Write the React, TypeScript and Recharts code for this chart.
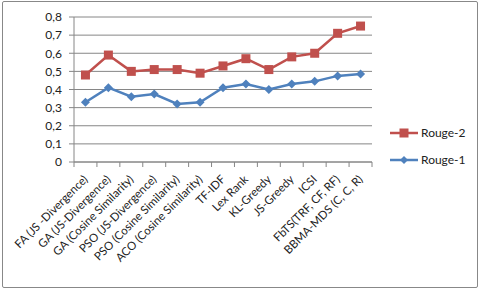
import React from "react"
import { LineChart, Line, XAxis, YAxis, CartesianGrid, Legend } from "recharts"

// categories along the x axis
const methods = [
  "FA (JS -Divergence)",
  "GA (JS-Divergence)",
  "GA (Cosine Similarity)",
  "PSO (JS-Divergence)",
  "PSO (Cosine Similarity)",
  "ACO (Cosine Similarity)",
  "TF-IDF",
  "Lex Rank",
  "KL-Greedy",
  "JS-Greedy",
  "ICSI",
  "FbTS(TRF, CF, RF)",
  "BBMA-MDS (C, C, R)",
]

const rouge2 = [0.48, 0.59, 0.5, 0.51, 0.51, 0.49, 0.53, 0.57, 0.51, 0.58, 0.6, 0.71, 0.75]
const rouge1 = [0.33, 0.41, 0.36, 0.375, 0.32, 0.33, 0.41, 0.43, 0.4, 0.43, 0.445, 0.475, 0.485]

const yTicks = [0, 0.1, 0.2, 0.3, 0.4, 0.5, 0.6, 0.7, 0.8]

const RED = "#C0504D"
const BLUE = "#4F81BD"
const AXIS = "#868686"
const FONT = "Lato, 'Liberation Sans', sans-serif"

const data = methods.map((name, i) => ({ name, r2: rouge2[i], r1: rouge1[i] }))

const WIDTH = 480
const HEIGHT = 290
const MARGIN = { top: 17, right: 108, left: 0, bottom: 0 }
const Y_WIDTH = 74
const BAND = (WIDTH - MARGIN.left - MARGIN.right - Y_WIDTH) / methods.length

// x tick: rotated label plus a tick line at the category boundary (Excel style)
const CategoryTick = (props: any) => {
  const { x, y, payload, index } = props
  const last = index === methods.length - 1
  const ax = x + 3
  const ay = y + 10
  return (
    <g>
      <line x1={x - BAND / 2} y1={y - 8} x2={x - BAND / 2} y2={y - 3} stroke={AXIS} />
      {last && <line x1={x + BAND / 2} y1={y - 8} x2={x + BAND / 2} y2={y - 3} stroke={AXIS} />}
      <text
        x={ax}
        y={ay}
        textAnchor="end"
        fontSize={11.5}
        fontFamily={FONT}
        fill="#222"
        transform={`rotate(-45 ${ax} ${ay})`}
      >
        {payload.value}
      </text>
    </g>
  )
}

const Square = (props: any) => {
  const { cx, cy } = props
  if (cx == null || cy == null) return null
  return <rect x={cx - 4.5} y={cy - 4.5} width={9} height={9} fill={RED} />
}

const Diamond = (props: any) => {
  const { cx, cy } = props
  if (cx == null || cy == null) return null
  return <path d={`M${cx},${cy - 4.5} L${cx + 4.5},${cy} L${cx},${cy + 4.5} L${cx - 4.5},${cy} Z`} fill={BLUE} />
}

const LegendContent = () => {
  const items = [
    { label: "Rouge-2", color: RED, shape: "square" },
    { label: "Rouge-1", color: BLUE, shape: "diamond" },
  ]
  return (
    <svg width={90} height={50}>
      {items.map((it, i) => {
        const cy = 8 + i * 27
        return (
          <g key={it.label}>
            <line x1={0} y1={cy} x2={28} y2={cy} stroke={it.color} strokeWidth={2.5} />
            {it.shape === "square" ? (
              <rect x={9.5} y={cy - 4.5} width={9} height={9} fill={it.color} />
            ) : (
              <path d={`M14,${cy - 4} L18,${cy} L14,${cy + 4} L10,${cy} Z`} fill={it.color} />
            )}
            <text x={31} y={cy + 4} fontSize={12} fontFamily={FONT} fill="#222">
              {it.label}
            </text>
          </g>
        )
      })}
    </svg>
  )
}

export default function App() {
  return (
    <div style={{ position: "absolute", left: 0, top: 0, width: WIDTH, height: HEIGHT, background: "#fff" }}>
      <div
        style={{
          position: "absolute",
          left: 2,
          top: 1,
          width: 474,
          height: 285,
          border: "1px solid #888",
          borderRadius: 2,
        }}
      />
      <LineChart width={WIDTH} height={HEIGHT} data={data} margin={MARGIN}>
        <CartesianGrid vertical={false} stroke={AXIS} />
        <XAxis
          dataKey="name"
          interval={0}
          height={128}
          tickLine={false}
          stroke={AXIS}
          tick={<CategoryTick />}
          padding={{ left: BAND / 2, right: BAND / 2 }}
        />
        <YAxis
          width={Y_WIDTH}
          domain={[0, 0.8]}
          ticks={yTicks}
          interval={0}
          stroke={AXIS}
          tickSize={5}
          tickMargin={7}
          tickFormatter={(v: number) => v.toFixed(1).replace(".", ",").replace(/^0,0$/, "0")}
          tick={{ fontSize: 12, fontFamily: FONT, fill: "#222" }}
        />
        <Legend
          layout="vertical"
          align="center"
          verticalAlign="middle"
          content={<LegendContent />}
          wrapperStyle={{ position: "absolute", left: 390, top: 125, width: 90 }}
        />
        <Line
          dataKey="r2"
          name="Rouge-2"
          stroke={RED}
          strokeWidth={2.5}
          dot={<Square />}
          activeDot={false}
          isAnimationActive={false}
        />
        <Line
          dataKey="r1"
          name="Rouge-1"
          stroke={BLUE}
          strokeWidth={2.5}
          dot={<Diamond />}
          activeDot={false}
          isAnimationActive={false}
        />
      </LineChart>
    </div>
  )
}
